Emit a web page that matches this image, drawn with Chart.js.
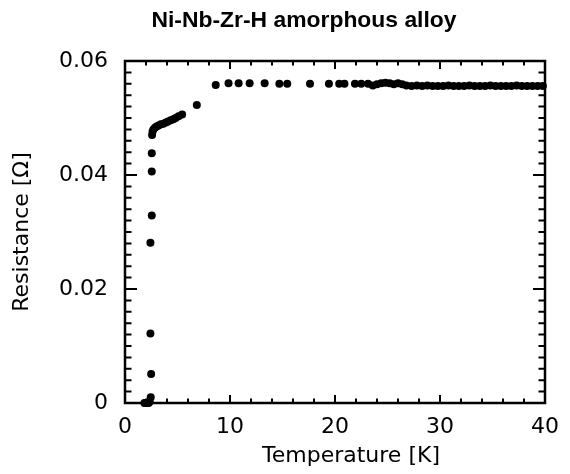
<!DOCTYPE html>
<html>
<head>
<meta charset="utf-8">
<script src="https://cdn.jsdelivr.net/npm/chart.js@4/dist/chart.umd.min.js"></script>
<style>
  html, body { margin: 0; padding: 0; background: #fff; }
</style>
</head>
<body>
<canvas id="chart" width="570" height="474"></canvas>
<script>
// values
const temperature = [
  1.85, 1.95, 2.05, 2.15, 2.25, 2.35,
  2.45, 2.49, 2.42, 2.42, 2.55, 2.55, 2.55,
  2.58, 2.62, 2.7, 2.85, 3.0, 3.2, 3.42, 3.65, 3.89, 4.1, 4.35, 4.6, 4.82, 5.1, 5.44, 6.84, 8.64,
  9.86, 10.82, 11.87, 13.3, 14.7, 15.45, 17.62, 19.42, 20.4, 20.9, 21.9, 22.5, 23.15,
  23.6, 24.0, 24.4, 24.8, 25.2, 25.6, 26.0, 26.4, 26.8, 27.3, 27.8, 28.3, 28.8, 29.3, 29.8,
  30.3, 30.8, 31.3, 31.8, 32.3, 32.8, 33.3, 33.8, 34.3, 34.8, 35.3, 35.8, 36.3, 36.8,
  37.3, 37.8, 38.3, 38.8, 39.3, 39.8
];
const resistance = [
  0, 0, 0, 0, 0, 0.0002,
  0.0010, 0.0051, 0.0122, 0.0281, 0.0329, 0.0406, 0.0438,
  0.0470, 0.0476, 0.0480, 0.0483, 0.0485, 0.0487, 0.0489, 0.0490, 0.0492, 0.0494, 0.0496, 0.0498, 0.0500, 0.0503, 0.0506, 0.0523, 0.0558,
  0.0561, 0.0561, 0.0561, 0.0561, 0.0560, 0.0560, 0.0560, 0.0560, 0.0560, 0.0560, 0.0560, 0.0560, 0.0560,
  0.0557, 0.0559, 0.0561, 0.0562, 0.0561, 0.0559, 0.0561, 0.0559, 0.0557, 0.0556, 0.0557, 0.0556, 0.0557, 0.0556, 0.0556,
  0.0556, 0.0557, 0.0556, 0.0556, 0.0556, 0.0557, 0.0556, 0.0556, 0.0556, 0.0557, 0.0556, 0.0556, 0.0556, 0.0556,
  0.0557, 0.0556, 0.0556, 0.0556, 0.0556, 0.0556
];
const xTicks = [0, 10, 20, 30, 40];
const yTicks = [0, 0.02, 0.04, 0.06];
const yTickLabels = ['0', '0.02', '0.04', '0.06'];
const xMinorStep = 2;
const yMinorStep = 0.002;

const titleText = 'Ni-Nb-Zr-H amorphous alloy';
const xTitleText = 'Temperature [K]';

const FONT = 'DejaVu Sans';

// frame with inward ticks on all four sides, plus the chart title and x title
const frameTicks = {
  id: 'frameTicks',
  afterDatasetsDraw(chart) {
    const ctx = chart.ctx;
    const a = chart.chartArea;
    const xs = chart.scales.x, ys = chart.scales.y;
    ctx.save();
    ctx.strokeStyle = '#000';
    ctx.lineWidth = 2;
    ctx.beginPath();
    for (let v = xs.min; v <= xs.max + 1e-9; v += xMinorStep) {
      const px = xs.getPixelForValue(v);
      const len = xTicks.includes(Math.round(v)) ? 8 : 4.5;
      ctx.moveTo(px, a.bottom); ctx.lineTo(px, a.bottom - len);
      ctx.moveTo(px, a.top); ctx.lineTo(px, a.top + len);
    }
    for (let i = 0; i * yMinorStep <= ys.max + 1e-9; i++) {
      const py = ys.getPixelForValue(i * yMinorStep);
      const len = i % 10 === 0 ? 12 : 6.5;
      ctx.moveTo(a.left, py); ctx.lineTo(a.left + len, py);
      ctx.moveTo(a.right, py); ctx.lineTo(a.right - len, py);
    }
    ctx.stroke();
    ctx.lineWidth = 2.5;
    ctx.strokeRect(a.left, a.top, a.right - a.left, a.bottom - a.top);

    ctx.fillStyle = '#000';
    ctx.textAlign = 'center';
    ctx.textBaseline = 'middle';
    ctx.save();
    ctx.translate(304, 21);
    ctx.scale(1.04, 1);
    ctx.font = 'bold 22px "Liberation Sans"';
    ctx.fillText(titleText, 0, 0);
    ctx.restore();

    ctx.font = '22px "' + FONT + '"';
    ctx.fillText(xTitleText, 351, 456);
    ctx.restore();
  }
};

const data = {
  datasets: [{
    data: temperature.map((t, i) => ({ x: t, y: resistance[i] })),
    backgroundColor: '#000',
    borderWidth: 0,
    pointRadius: 4,
    pointHoverRadius: 4,
    showLine: false,
    clip: false
  }]
};

const config = {
  type: 'scatter',
  data: data,
  options: {
    responsive: false,
    devicePixelRatio: 1,
    animation: false,
    layout: { padding: { left: 0, right: 16, top: 61, bottom: 0 } },
    plugins: {
      legend: { display: false },
      tooltip: { enabled: false },
      title: { display: false }
    },
    scales: {
      x: {
        type: 'linear',
        min: 0,
        max: 40,
        afterBuildTicks: s => { s.ticks = xTicks.map(v => ({ value: v })); },
        afterFit: s => { s.height = 71; },
        grid: { display: false, drawTicks: false },
        border: { display: false },
        ticks: {
          color: '#000',
          font: { family: FONT, size: 22 },
          padding: 11,
          maxRotation: 0
        },
        title: { display: false }
      },
      y: {
        type: 'linear',
        min: 0,
        max: 0.06,
        afterBuildTicks: s => { s.ticks = yTicks.map(v => ({ value: v })); },
        afterFit: s => { s.width = 125; },
        grid: { display: false, drawTicks: false },
        border: { display: false },
        ticks: {
          color: '#000',
          font: { family: FONT, size: 22 },
          padding: 17,
          callback: v => yTickLabels[yTicks.indexOf(v)] ?? ''
        },
        title: {
          display: true,
          text: 'Resistance [Ω]',
          color: '#000',
          font: { family: FONT, size: 22 },
          padding: { top: 9, bottom: 0 }
        }
      }
    }
  },
  plugins: [frameTicks]
};

const chart = new Chart(document.getElementById('chart').getContext('2d'), config);
</script>
</body>
</html>
